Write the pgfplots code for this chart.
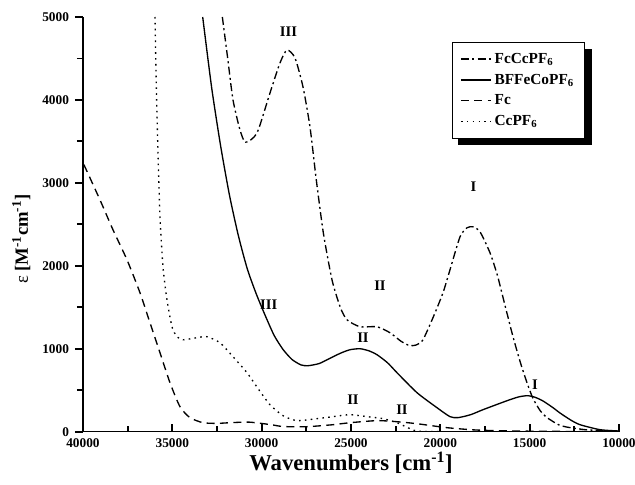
\documentclass[border=0pt]{standalone}
\usepackage{fontspec}
\setmainfont{Liberation Serif}
\usepackage{pgfplots}
\pgfplotsset{compat=1.18}
\pgfdeclarelayer{background}
\pgfsetlayers{background,main}

\begin{document}
\begin{tikzpicture}
\begin{axis}[
  name=ax,
  scale only axis,
  width=402pt,height=311pt,
  x dir=reverse,
  xmin=10000,xmax=40000,ymin=0,ymax=5000,
  axis lines=left,
  axis line style={-,line width=0.9pt},
  xtick={10000,15000,...,40000},
  ytick={0,1000,...,5000},
  minor xtick={12500,17500,...,37500},
  minor ytick={500,1500,...,4500},
  xtick align=inside,
  ytick align=outside,
  major tick length=6pt,minor tick length=4.5pt,
  tick style={black,line width=1.4pt},
  /pgf/number format/assume math mode=true,
  /pgf/number format/set thousands separator={},
  scaled ticks=false,
  tick label style={font=\bfseries\fontsize{10}{11}\selectfont},
  xticklabel style={yshift=-2pt},
  yticklabel style={xshift=-1pt},
  xlabel={\bfseries\fontsize{17}{19}\selectfont Wavenumbers [cm\textsuperscript{-1}]},
  ylabel={\fontsize{14}{16}\selectfont ε \bfseries [M\textsuperscript{-1}cm\textsuperscript{-1}]},
  xlabel style={yshift=4pt},
  ylabel style={yshift=2pt,xshift=-11pt},
  legend style={at={(0.688,0.94)},anchor=north west,draw=black,line width=0.8pt,
    fill=white,font=\bfseries\fontsize{11.5}{13}\selectfont,
    name=leg,inner xsep=6pt,inner ysep=6pt,row sep=2.5pt},
  legend cell align=left,
  legend image code/.code={\draw[#1,line width=1pt] (0pt,0pt) -- (0.8cm,0pt);},
  every axis plot/.append style={line width=1pt,black},
]
% FcCcPF6
\addplot[dash pattern=on 6pt off 2.5pt on 1.5pt off 2.5pt,smooth,tension=0.4] coordinates {
(32200,5000) (31900,4500) (31604,4000) (31213,3639) (30900,3490) (30261,3602)
(29534,4084) (28974,4446) (28582,4602) (28134,4506) (27687,4157) (27295,3675)
(26950,3050) (26550,2400) (26063,1831) (25600,1500) (25224,1349) (24496,1265)
(23545,1265) (22817,1193) (22200,1090) (21698,1036) (21300,1050) (20970,1108)
(20400,1380) (19851,1675) (19459,1952) (18900,2349) (18508,2458) (18172,2470)
(17780,2410) (17220,2157) (16800,1880) (16400,1540) (15933,1145) (15500,820)
(15149,590) (14813,400) (14400,250) (14030,170) (13400,85) (12910,55) (11791,22) (10000,5)};
\addlegendentry{FcCcPF\textsubscript{6}}
% BFFeCoPF6
\addplot[solid,smooth,tension=0.4] coordinates {
(33300,5000) (32800,4150) (32300,3450) (31800,2850) (31300,2360) (30800,1960)
(30300,1660) (29800,1400) (29300,1160) (28800,990) (28300,870) (27800,805)
(27407,795) (26800,820) (26343,867) (25600,945) (25056,988)
(24496,1000) (24000,975) (23545,928) (22950,830) (22425,711) (21306,470)
(20187,289) (19459,181) (19012,169) (18300,205) (17612,265) (16269,373)
(15600,420) (15100,434) (14700,415) (14254,370) (13700,290) (13302,225) (12700,140)
(12183,84) (11063,24) (10000,8)};
\addlegendentry{BFFeCoPF\textsubscript{6}}
% Fc
\addplot[dash pattern=on 6pt off 4pt,smooth,tension=0.4] coordinates {
(39950,3220) (39049,2795) (38321,2434) (37537,2072) (36810,1675) (36250,1313)
(35690,952) (35131,590) (34571,301) (34011,169) (33284,108) (32500,100)
(31772,108) (30700,115) (29500,85) (28806,62) (27463,60) (26007,84)
(25056,108) (23545,133) (22425,120) (21306,96) (19627,48) (18000,20)
(16000,8) (13000,3) (10000,0)};
\addlegendentry{Fc}
% CcPF6
\addplot[dash pattern=on 1.2pt off 3.2pt,smooth,tension=0.4] coordinates {
(35970,5000) (35900,4200) (35802,3361) (35690,2590) (35522,1988) (35299,1590)
(35019,1265) (34739,1145) (34403,1108) (33620,1133) (33060,1145) (32332,1072)
(31604,904) (30821,711) (30205,520) (29534,325) (28806,193) (28022,133)
(26903,157) (26007,181) (25056,205) (24105,181) (23209,157) (22425,108)
(21698,36) (21300,8) (20000,0) (10000,0)};
\addlegendentry{CcPF\textsubscript{6}}

\begin{scope}[every node/.style={font=\bfseries\fontsize{11}{12}\selectfont}]
\node at (axis cs:28500,4820) {III};
\node at (axis cs:18150,2950) {I};
\node at (axis cs:23377,1760) {II};
\node at (axis cs:29600,1530) {III};
\node at (axis cs:24328,1130) {II};
\node at (axis cs:24888,390) {II};
\node at (axis cs:22146,270) {II};
\node at (axis cs:14702,570) {I};
\end{scope}
\end{axis}
\begin{pgfonlayer}{background}
\fill[black] ([xshift=5pt,yshift=-5pt]leg.south west) rectangle ([xshift=5pt,yshift=-5pt]leg.north east);
\end{pgfonlayer}
\pgfresetboundingbox
\path ([xshift=-62.25pt,yshift=-39.75pt]ax.south west) rectangle ([xshift=12pt,yshift=12.75pt]ax.north east);
\end{tikzpicture}
\end{document}
